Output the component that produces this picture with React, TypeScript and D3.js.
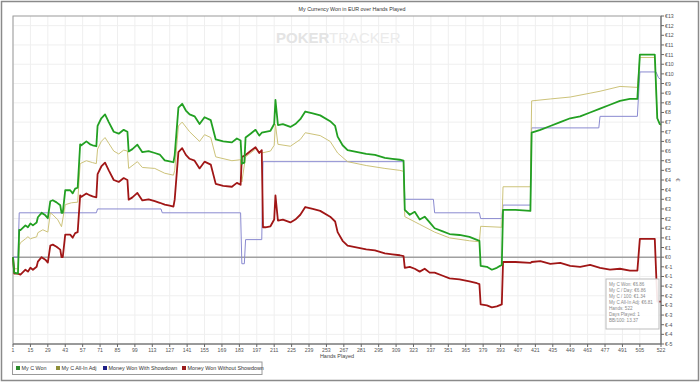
import React from "react";
import * as d3 from "d3";

const W = 700;
const H = 382;

const title = "My Currency Won in EUR over Hands Played";
const xTicks = [1, 15, 29, 43, 57, 71, 85, 99, 113, 127, 141, 155, 169, 183, 197, 211, 225, 239, 253, 267, 281, 295, 309, 323, 337, 351, 365, 379, 393, 407, 421, 435, 449, 463, 477, 491, 505, 522];
const yTicks = [12.5, 12, 11.5, 11, 10.5, 10, 9.5, 9, 8.5, 8, 7.5, 7, 6.5, 6, 5.5, 5, 4.5, 4, 3.5, 3, 2.5, 2, 1.5, 1, 0.5, 0, -0.5, -1, -1.5, -2, -2.5, -3, -3.5, -4, -4.5];
const yGrid = [12, 11, 10, 9, 8, 7, 6, 5, 4, 3, 2, 1, -1, -2, -3, -4];

// [hand, EUR]
const myCWon: [number, number][] = [
  [1, 0], [2, -0.8], [5, -0.85], [6, 1.42], [7, 1.4], [11, 1.65], [13, 1.55], [15, 1.75], [17, 1.65], [20, 1.8], [21, 2.07], [24, 2.3], [27, 2.17], [29, 2.02], [31, 2.9], [33, 2.95], [36, 2.84], [39, 2.69], [40, 2.3], [41, 2.3], [43, 3.47], [47, 3.47], [49, 3.31], [51, 3.55], [53, 3.6], [55, 5.85], [56, 5.8], [60, 6.0], [63, 5.85], [65, 5.8], [68, 5.75], [69, 6.8], [72, 7.2], [75, 7.4], [78, 7.0], [82, 6.5], [86, 6.4], [90, 6.6], [93, 6.5], [94, 5.48], [97, 5.6], [101, 5.83], [105, 5.44], [110, 5.5], [115, 5.4], [119, 5.32], [123, 5.02], [127, 4.97], [130, 4.92], [131, 5.28], [134, 7.75], [137, 7.95], [140, 7.6], [143, 7.4], [147, 7.3], [151, 6.9], [155, 7.25], [160, 7.1], [164, 6.1], [170, 6.0], [177, 5.95], [181, 6.15], [184, 6.05], [185, 4.85], [187, 4.9], [188, 6.2], [192, 6.4], [196, 6.6], [199, 6.3], [201, 6.45], [204, 6.5], [208, 6.55], [211, 6.9], [212, 8.15], [214, 6.85], [218, 6.9], [224, 6.75], [228, 6.9], [232, 7.15], [236, 7.55], [242, 7.45], [248, 7.35], [256, 7.05], [260, 6.8], [262, 6.25], [266, 5.8], [270, 5.55], [278, 5.45], [285, 5.35], [292, 5.3], [300, 5.15], [306, 5.1], [312, 5.05], [315, 5.0], [316, 2.45], [320, 2.2], [324, 2.35], [328, 1.95], [332, 2.1], [336, 1.8], [340, 1.5], [346, 1.35], [352, 1.2], [360, 1.15], [368, 1.05], [374, 0.9], [376, 0.85], [377, -0.45], [382, -0.5], [386, -0.65], [390, -0.55], [394, -0.4], [395, 2.45], [405, 2.45], [417, 2.4], [418, 6.45], [425, 6.6], [433, 6.8], [441, 7.0], [449, 7.2], [457, 7.3], [465, 7.5], [473, 7.7], [481, 7.9], [489, 8.1], [497, 8.2], [503, 8.2], [505, 10.5], [517, 10.5], [519, 7.2], [521, 6.9], [522, 6.86]
];

const myCAllInAdj: [number, number][] = [
  [1, 0], [2, -0.6], [5, -0.6], [6, 0.6], [7, 0.75], [11, 0.95], [13, 1.06], [15, 0.95], [17, 1.0], [20, 1.05], [21, 1.27], [25, 1.42], [29, 1.3], [31, 2.3], [33, 2.2], [37, 1.94], [40, 1.58], [43, 2.72], [48, 2.82], [53, 2.85], [55, 4.85], [60, 5.0], [65, 4.9], [68, 4.85], [69, 5.6], [72, 6.0], [75, 6.2], [78, 5.9], [82, 5.5], [86, 5.35], [90, 5.55], [93, 5.5], [94, 4.6], [101, 4.95], [105, 4.65], [115, 4.6], [123, 4.35], [130, 4.25], [131, 4.5], [134, 6.8], [137, 7.0], [143, 6.5], [151, 6.0], [155, 6.35], [160, 6.2], [164, 5.2], [177, 5.0], [184, 5.05], [185, 3.9], [188, 5.2], [196, 5.6], [201, 5.4], [208, 5.5], [211, 5.8], [212, 6.9], [214, 5.85], [224, 5.75], [232, 6.1], [236, 6.45], [248, 6.3], [256, 6.0], [262, 5.4], [270, 4.95], [285, 4.75], [300, 4.6], [312, 4.5], [315, 4.45], [316, 2.1], [328, 1.7], [340, 1.3], [352, 1.0], [368, 0.85], [376, 0.8], [377, 1.6], [394, 1.55], [395, 3.65], [417, 3.65], [418, 8.1], [433, 8.2], [449, 8.3], [465, 8.5], [473, 8.6], [489, 8.85], [503, 8.8], [505, 10.35], [517, 10.35], [519, 7.2], [522, 6.81]
];

const wonWithShowdown: [number, number][] = [
  [1, 0], [5, 0], [6, 2.3], [68, 2.3], [69, 2.5], [120, 2.5], [121, 2.3], [184, 2.3], [185, -0.34], [187, -0.34], [188, 0.91], [201, 0.91], [202, 4.95], [315, 4.95], [316, 3.0], [339, 3.0], [340, 2.3], [376, 2.3], [377, 2.0], [394, 2.0], [395, 2.7], [417, 2.7], [418, 6.7], [472, 6.7], [473, 7.3], [503, 7.3], [505, 9.6], [518, 9.6], [520, 9.3], [522, 9.2]
];

const wonWithoutShowdown: [number, number][] = [
  [1, 0], [2, -0.85], [5, -0.85], [7, -0.9], [11, -0.65], [13, -0.75], [15, -0.55], [17, -0.65], [20, -0.5], [21, -0.23], [24, 0], [27, -0.13], [29, -0.28], [31, 0.6], [33, 0.65], [36, 0.54], [39, 0.39], [40, 0], [41, 0], [43, 1.17], [47, 1.17], [49, 1.01], [51, 1.25], [53, 1.3], [55, 3.2], [56, 3.13], [60, 3.3], [63, 3.2], [65, 3.15], [68, 3.1], [69, 4.3], [72, 4.7], [75, 4.9], [78, 4.5], [82, 4.0], [86, 3.9], [90, 4.1], [93, 4.0], [94, 2.98], [97, 3.1], [101, 3.33], [105, 2.94], [110, 3.0], [115, 2.9], [119, 2.82], [123, 2.72], [127, 2.67], [130, 2.62], [131, 2.98], [134, 5.45], [137, 5.65], [140, 5.3], [143, 5.1], [147, 5.0], [151, 4.6], [155, 4.95], [160, 4.8], [164, 3.8], [170, 3.7], [177, 3.65], [181, 3.85], [184, 3.75], [185, 5.2], [187, 5.25], [188, 5.3], [192, 5.5], [196, 5.7], [199, 5.4], [201, 5.55], [202, 1.55], [204, 1.55], [208, 1.6], [211, 1.95], [212, 3.2], [214, 1.9], [218, 1.95], [224, 1.8], [228, 1.95], [232, 2.2], [236, 2.6], [242, 2.5], [248, 2.4], [256, 2.1], [260, 1.85], [262, 1.3], [266, 0.85], [270, 0.6], [278, 0.5], [285, 0.4], [292, 0.35], [300, 0.2], [306, 0.15], [312, 0.1], [315, 0.05], [316, -0.55], [320, -0.5], [324, -0.6], [328, -0.75], [332, -0.6], [336, -0.8], [340, -0.8], [346, -0.95], [352, -1.1], [360, -1.15], [368, -1.25], [374, -1.35], [376, -1.4], [377, -2.45], [382, -2.5], [386, -2.6], [390, -2.55], [394, -2.45], [395, -0.25], [405, -0.25], [417, -0.3], [418, -0.25], [425, -0.2], [433, -0.35], [441, -0.3], [449, -0.45], [457, -0.5], [465, -0.4], [473, -0.55], [481, -0.65], [489, -0.6], [497, -0.7], [503, -0.7], [505, 0.95], [517, 0.95], [519, -2.3], [522, -2.3]
];

const legendItems = [
  { label: "My C Won", color: "#2e8b2e" },
  { label: "My C All-In Adj", color: "#8f8f3a" },
  { label: "Money Won With Showdown", color: "#1f1f85" },
  { label: "Money Won Without Showdown", color: "#9a1c1c" },
];

const tooltipLines = [
  "My C Won: €6.86",
  "My C / Day: €6.86",
  "My C / 100: €1.34",
  "My C All-In Adj: €6.81",
  "Hands: 522",
  "Days Played: 1",
  "BB/100: 13.37",
];

const FONT = "'Liberation Sans', Arial, sans-serif";

function fmtEur(v: number) {
  const r = v >= 0 ? Math.round(v) : -Math.round(-v);
  return "€" + r;
}

export default function App() {
  const left = 13, right = 661, top = 16, bottom = 344;
  const x = d3.scaleLinear().domain([1, 522]).range([left, right]);
  const y = d3.scaleLinear().domain([-4.5, 12.5]).range([bottom, top]);
  const line = d3.line<[number, number]>().x((d) => x(d[0])).y((d) => y(d[1]));

  const series = [
    { data: wonWithShowdown, color: "#8a8ad0", width: 1 },
    { data: myCAllInAdj, color: "#cdc37a", width: 1 },
    { data: wonWithoutShowdown, color: "#a01616", width: 1.8 },
    { data: myCWon, color: "#22a022", width: 1.8 },
  ];

  const legendX = [16, 56, 103, 182];

  return (
    <svg width={W} height={H} style={{ position: "fixed", left: 0, top: 0, background: "#fff" }} fontFamily={FONT}>
      <rect x={0} y={0} width={W} height={H} fill="#fff" />
      <rect x={1.5} y={1.5} width={W - 3} height={H - 3} fill="none" stroke="#8a8a8a" strokeWidth={1.5} />
      <text x={352} y={11} fontSize={5.3} textAnchor="middle" fill="#333">{title}</text>

      {/* grid */}
      {xTicks.map((t) => (
        <line key={"gx" + t} x1={x(t)} x2={x(t)} y1={top} y2={bottom} stroke="#efefef" strokeWidth={1} />
      ))}
      {yGrid.map((t) => (
        <line key={"gy" + t} x1={left} x2={right} y1={y(t)} y2={y(t)} stroke="#efefef" strokeWidth={1} />
      ))}

      {/* watermark */}
      <text x={276} y={43} fontSize={15} fontWeight="bold" fill="#e4e4e4">POKER</text>
      <text x={329} y={43} fontSize={15} fill="#ebebeb">TRACKER</text>

      {/* plot frame */}
      <rect x={left} y={top} width={right - left} height={bottom - top} fill="none" stroke="#9a9a9a" strokeWidth={1} />

      {/* zero line */}
      <line x1={left} x2={right} y1={y(0)} y2={y(0)} stroke="#a0a0a0" strokeWidth={1.5} />

      {series.map((s, i) => (
        <path key={i} d={line(s.data) || ""} fill="none" stroke={s.color} strokeWidth={s.width} strokeLinejoin="round" />
      ))}

      {/* right axis */}
      <line x1={right} x2={right} y1={top} y2={bottom} stroke="#666" strokeWidth={1} />
      {yTicks.map((t) => (
        <g key={"yt" + t}>
          <line x1={right} x2={right + 3} y1={y(t)} y2={y(t)} stroke="#666" />
          <text x={right + 4} y={y(t) + 2} fontSize={5.2} fill="#555">{fmtEur(t)}</text>
        </g>
      ))}
      <text transform={`translate(676,${(top + bottom) / 2}) rotate(90)`} fontSize={6} textAnchor="middle" fill="#555">€</text>

      {/* bottom axis */}
      <line x1={left} x2={right} y1={bottom} y2={bottom} stroke="#666" strokeWidth={1} />
      {xTicks.map((t) => (
        <g key={"xt" + t}>
          <line x1={x(t)} x2={x(t)} y1={bottom} y2={bottom + 3} stroke="#666" />
          <text x={x(t)} y={bottom + 8} fontSize={5.2} textAnchor="middle" fill="#555">{t}</text>
        </g>
      ))}
      <text x={337} y={358} fontSize={5.5} textAnchor="middle" fill="#444">Hands Played</text>

      {/* tooltip */}
      <rect x={606} y={279} width={53} height={50} fill="#fff" fillOpacity={0.9} stroke="#bdbdbd" strokeWidth={1} />
      {tooltipLines.map((t, i) => (
        <text key={t} x={609} y={286 + i * 6} fontSize={4.6} fill="#8a8a8a">{t}</text>
      ))}

      {/* legend */}
      <rect x={12.5} y={362} width={249.5} height={12.5} fill="#fff" stroke="#9a9a9a" strokeWidth={1} />
      {legendItems.map((it, i) => (
        <g key={it.label}>
          <rect x={legendX[i]} y={366} width={4} height={4} fill={it.color} />
          <text x={legendX[i] + 5.5} y={370} fontSize={5.4} fill="#333">{it.label}</text>
        </g>
      ))}
    </svg>
  );
}
